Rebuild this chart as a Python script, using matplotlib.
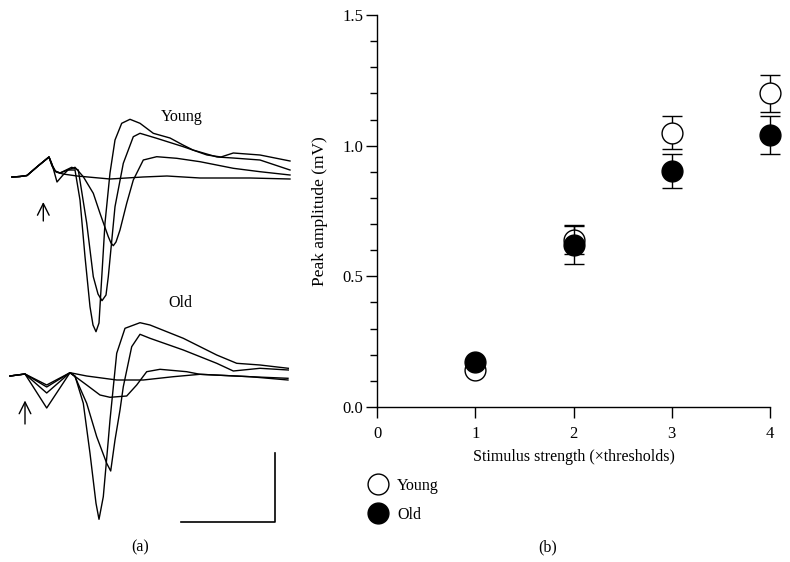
import matplotlib
matplotlib.use("Agg")
import matplotlib.pyplot as plt
from matplotlib.lines import Line2D
from matplotlib.ticker import MultipleLocator

plt.rcParams['font.family'] = ['Liberation Serif', 'DejaVu Serif']
plt.rcParams['font.size'] = 11

# ---- panel (b) data ----
stim = [1, 2, 3, 4]
young_amp = [0.14, 0.64, 1.05, 1.20]
young_err = [0.0, 0.055, 0.062, 0.072]
old_amp = [0.173, 0.62, 0.903, 1.042]
old_err = [0.0, 0.072, 0.066, 0.072]

# ---- panel (a) traces (time in samples, amplitude in a.u., up positive) ----
# young group
y_onset_t = [0, 8, 15, 26, 37]
y_onset_a = [0, 0.5, 1.5, 11, 20]

ya_t = [40, 44, 51, 65, 98, 131, 155, 188, 238, 278]
ya_a = [12, 5, 3, 1, -2, 0, 1, -1, -1, -2]

yb_t = [40, 45, 51, 56, 63, 68, 73, 78, 81, 84, 87, 93, 98, 103, 109.7, 118, 128, 141.3,
        158, 171, 181, 205, 221, 248, 278]
yb_a = [13, -5, 2, 7, 7, -23, -79.7, -129.7, -148, -154.7, -146, -46, 4, 37, 53.7, 57.7,
        53.7, 43.7, 39, 32, 27, 20, 19, 17, 7]

yc_t = [40, 43, 48, 59.7, 66.3, 74.7, 81.3, 86, 90, 94, 96.3, 103, 111.3, 121.3, 128, 144.7,
        171.3, 195, 209, 221.3, 248, 278]
yc_a = [11, 6, 4, 9.7, 7, -46, -99.7, -117, -123.7, -118, -99.7, -29.7, 13.7, 40.3, 43.7,
        38.7, 30.3, 22, 20, 24, 22, 16]

yd_t = [40, 43, 48, 63, 71.3, 81.3, 88, 96.3, 99, 101.3, 104, 108, 114.7, 121.3, 131.3,
        144.7, 164.7, 188, 221.3, 248, 278]
yd_a = [12, 6, 4, 9.7, 0.3, -16.3, -36.3, -59.7, -66, -68.7, -65, -53, -26.3, -3, 17,
        20.3, 18.7, 15.3, 8.7, 5.3, 2]

# old group
o_onset_t = [-2, 13, 34.7, 58]
oe_dip, oh_dip, og_dip, of_dip = -9, -11, -17, -32

oe_t = [74.7, 104.7, 131.3, 161.3, 188, 238, 276]
oe_a = [0, -4, -4, -0.7, 1.7, -0.7, -2.3]

oh_t = [74.7, 88, 98, 114.7, 124.7, 134.7, 148, 174.7, 188, 238, 276]
oh_a = [-9, -19, -21.3, -20, -9, 4.3, 6.7, 4.3, 1.7, -0.7, -4]

og_t = [63, 74.7, 84.7, 94.7, 98.7, 103, 108, 111.3, 119.7, 128, 138, 171.3, 204.7, 221.3,
        248, 276.3]
og_a = [-0.7, -27.3, -60.7, -87.3, -95, -64, -34, -10.7, 29.3, 41.7, 37.7, 26, 12.7, 5,
        7.7, 6]

of_t = [63, 71.3, 78, 84, 87, 91.3, 96.3, 98, 104.7, 113, 128, 138, 171.3, 204.7, 224.7,
        248, 276.3]
of_a = [0, -27.3, -77.3, -127.3, -143.3, -120.7, -64, -44, 22.7, 47.7, 53.3, 51, 37.7, 21,
        12.7, 11, 7.7]

old_offset = -199

fig = plt.figure(figsize=(7.9, 5.62), dpi=100)

# ---------------- panel (a) ----------------
axa = fig.add_axes([0, 22 / 562, 300 / 790, 450 / 562])
axa.set_xlim(-12, 288)
axa.set_ylim(-363, 87)
axa.axis('off')

lw = 1.0
for t, a in [(ya_t, ya_a), (yb_t, yb_a), (yc_t, yc_a), (yd_t, yd_a)]:
    axa.plot(y_onset_t + t, y_onset_a + a, color='black', lw=lw)

for t, a, dip in [(oe_t, oe_a, oe_dip), (oh_t, oh_a, oh_dip),
                  (og_t, og_a, og_dip), (of_t, of_a, of_dip)]:
    tt = o_onset_t + t
    aa = [0, 2, dip, 3.3] + a
    axa.plot(tt, [v + old_offset for v in aa], color='black', lw=lw)

axa.text(169.7, 60.3, "Young", ha='center', va='center', fontsize=11.5)
axa.text(168.5, -126, "Old", ha='center', va='center', fontsize=11.5)
arrow_kw = dict(arrowstyle='->, head_width=0.3, head_length=0.6', lw=1, color='black',
                mutation_scale=14, shrinkA=0, shrinkB=0)
axa.annotate('', xy=(31.3, -25), xytext=(31.3, -44), arrowprops=arrow_kw)
axa.annotate('', xy=(13, -223.5), xytext=(13, -247), arrowprops=arrow_kw)
# scale bar
axa.plot([169, 263, 263], [-345.3, -345.3, -275.7], color='black', lw=1.2)

# ---------------- panel (b) ----------------
axb = fig.add_axes([377 / 790, 1 - 407 / 562, 393 / 790, 392 / 562])
axb.set_xlim(0, 4)
axb.set_ylim(0, 1.5)
for s in ['top', 'right']:
    axb.spines[s].set_visible(False)
axb.spines['left'].set_linewidth(1.0)
axb.spines['bottom'].set_linewidth(1.0)

axb.errorbar(stim, young_amp, yerr=young_err, fmt='o', color='black', mfc='white',
             mec='black', ms=15, mew=1.0, capsize=7, elinewidth=1.0, capthick=1.0,
             clip_on=False, zorder=3)
axb.errorbar(stim, old_amp, yerr=old_err, fmt='o', color='black', mfc='black',
             mec='black', ms=15, mew=1.0, capsize=7, elinewidth=1.0, capthick=1.0,
             clip_on=False, zorder=4)

axb.xaxis.set_major_locator(MultipleLocator(1))
axb.yaxis.set_major_locator(MultipleLocator(0.5))
axb.yaxis.set_minor_locator(MultipleLocator(0.1))
axb.yaxis.set_major_formatter(plt.FormatStrFormatter('%.1f'))
axb.tick_params(axis='both', which='major', length=8, width=1, labelsize=12)
axb.tick_params(axis='y', which='major', pad=2)
axb.tick_params(axis='x', which='major', pad=6)
axb.tick_params(axis='y', which='minor', length=5, width=1)
axb.set_xlabel("Stimulus strength (×thresholds)", fontsize=11.5, labelpad=5)
axb.set_ylabel("Peak amplitude (mV)", fontsize=12.5, labelpad=10)

handles = [Line2D([], [], marker='o', ls='', ms=15, mfc='white', mec='black', mew=1.0),
           Line2D([], [], marker='o', ls='', ms=15, mfc='black', mec='black', mew=1.0)]
fig.legend(handles, ['Young', 'Old'], loc='upper left',
           bbox_to_anchor=(367 / 790, 1 - 478 / 562), bbox_transform=fig.transFigure,
           frameon=False, borderpad=0, borderaxespad=0, handletextpad=0.5,
           labelspacing=0.8, fontsize=11.5, handlelength=1.4)

fig.text(140 / 790, 1 - 547 / 562, "(a)", ha='center', va='center', fontsize=11.5)
fig.text(548 / 790, 1 - 547 / 562, "(b)", ha='center', va='center', fontsize=11.5)

fig.savefig("out.png", dpi=100)
